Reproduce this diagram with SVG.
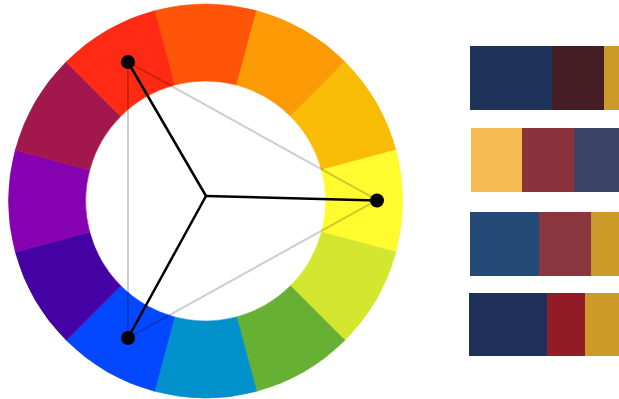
<svg xmlns="http://www.w3.org/2000/svg" width="619" height="399" viewBox="0 0 619 399">
<style>
.seg{stroke-width:0.6}
.tri{fill:none;stroke:#000;stroke-opacity:0.2;stroke-width:2}
.spoke{stroke:#000;stroke-width:2.5;stroke-linecap:round}
.dot{fill:#000}
</style>
<rect width="619" height="399" fill="#fff"/>
<g id="wheel">
<path class="seg" fill="#ff5509" stroke="#ff5509" d="M154.61,10.71 A197,197 0 0 1 256.59,10.71 L236.66,85.09 A120,120 0 0 0 174.54,85.09 Z"/>
<path class="seg" fill="#fb9a04" stroke="#fb9a04" d="M256.59,10.71 A197,197 0 0 1 344.90,61.70 L290.45,116.15 A120,120 0 0 0 236.66,85.09 Z"/>
<path class="seg" fill="#f9bc06" stroke="#f9bc06" d="M344.90,61.70 A197,197 0 0 1 395.89,150.01 L321.51,169.94 A120,120 0 0 0 290.45,116.15 Z"/>
<path class="seg" fill="#fffb2e" stroke="#fffb2e" d="M395.89,150.01 A197,197 0 0 1 395.89,251.99 L321.51,232.06 A120,120 0 0 0 321.51,169.94 Z"/>
<path class="seg" fill="#d2e72e" stroke="#d2e72e" d="M395.89,251.99 A197,197 0 0 1 344.90,340.30 L290.45,285.85 A120,120 0 0 0 321.51,232.06 Z"/>
<path class="seg" fill="#66b033" stroke="#66b033" d="M344.90,340.30 A197,197 0 0 1 256.59,391.29 L236.66,316.91 A120,120 0 0 0 290.45,285.85 Z"/>
<path class="seg" fill="#0391cc" stroke="#0391cc" d="M256.59,391.29 A197,197 0 0 1 154.61,391.29 L174.54,316.91 A120,120 0 0 0 236.66,316.91 Z"/>
<path class="seg" fill="#0347fe" stroke="#0347fe" d="M154.61,391.29 A197,197 0 0 1 66.30,340.30 L120.75,285.85 A120,120 0 0 0 174.54,316.91 Z"/>
<path class="seg" fill="#4401a4" stroke="#4401a4" d="M66.30,340.30 A197,197 0 0 1 15.31,251.99 L89.69,232.06 A120,120 0 0 0 120.75,285.85 Z"/>
<path class="seg" fill="#8601af" stroke="#8601af" d="M15.31,251.99 A197,197 0 0 1 15.31,150.01 L89.69,169.94 A120,120 0 0 0 89.69,232.06 Z"/>
<path class="seg" fill="#a3184c" stroke="#a3184c" d="M15.31,150.01 A197,197 0 0 1 66.30,61.70 L120.75,116.15 A120,120 0 0 0 89.69,169.94 Z"/>
<path class="seg" fill="#ff2a13" stroke="#ff2a13" d="M66.30,61.70 A197,197 0 0 1 154.61,10.71 L174.54,85.09 A120,120 0 0 0 120.75,116.15 Z"/>
</g>
<g id="connectors">
<polygon class="tri" points="128,62 128,338 377,200"/>
<line class="spoke" x1="206" y1="196" x2="128" y2="62"/>
<line class="spoke" x1="206" y1="196" x2="128" y2="338"/>
<line class="spoke" x1="206" y1="196" x2="377" y2="200.5"/>
</g>
<g id="dot-red"><circle class="dot" cx="128" cy="62" r="7"/></g>
<g id="dot-blue"><circle class="dot" cx="128" cy="338" r="7"/></g>
<g id="dot-yellow"><circle class="dot" cx="377" cy="200.5" r="7"/></g>
<g id="palette-1">
<rect x="470" y="46" width="82" height="64" fill="#1e325a"/>
<rect x="552" y="46" width="52" height="64" fill="#451d24"/>
<rect x="604" y="46" width="15" height="64" fill="#cc9a28"/>
</g>
<g id="palette-2">
<rect x="471" y="128" width="51" height="64" fill="#f5bb52"/>
<rect x="522" y="128" width="52" height="64" fill="#8b333c"/>
<rect x="574" y="128" width="45" height="64" fill="#3a4366"/>
</g>
<g id="palette-3">
<rect x="470" y="212" width="69" height="64" fill="#234a76"/>
<rect x="539" y="212" width="52" height="64" fill="#8b353f"/>
<rect x="591" y="212" width="28" height="64" fill="#cc9a28"/>
</g>
<g id="palette-4">
<rect x="469" y="293" width="78" height="63" fill="#1e3059"/>
<rect x="547" y="293" width="38" height="63" fill="#931b26"/>
<rect x="585" y="293" width="34" height="63" fill="#cc9a28"/>
</g>
</svg>
